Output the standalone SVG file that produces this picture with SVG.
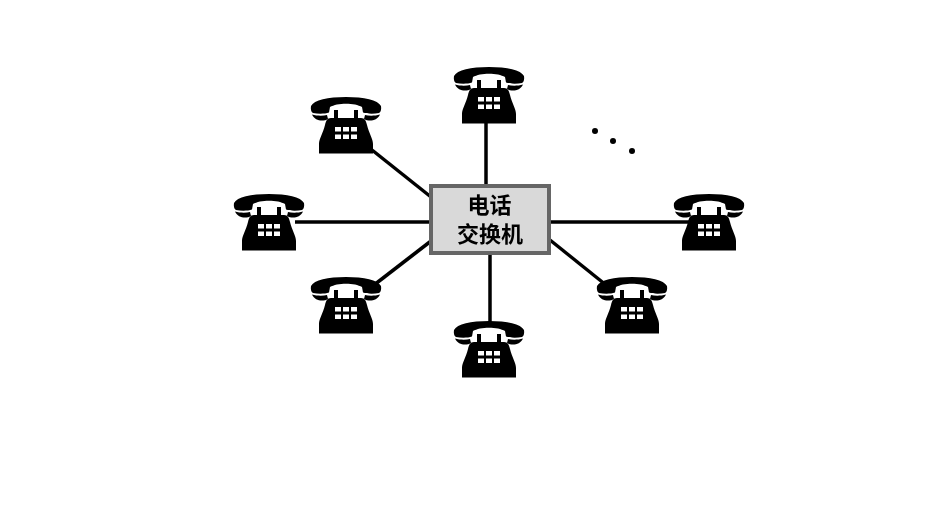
<svg xmlns="http://www.w3.org/2000/svg" width="934" height="513" viewBox="0 0 934 513">
<style>
.wire{stroke:#000;stroke-width:3.5;fill:none}
.sw{fill:#d9d9d9;stroke:#666;stroke-width:4}
.lbl{font-family:"Liberation Sans","Noto Sans CJK SC",sans-serif;font-size:22px;font-weight:700;fill:#000;text-anchor:middle}
</style>
<defs>
<filter id="soft" x="0" y="0" width="100%" height="100%"><feGaussianBlur stdDeviation="0.45"/></filter>
<g id="phone">
<path d="M-35,9 C-32,3 -18,0 0,0 C18,0 32,3 35,9 C35.500,12 35,15 33,16 C28,17 21,17 17,15.500 L16,10 C9,5.500 -9,5.500 -16,10 L-17,15.500 C-21,17 -28,17 -33,16 C-35,15 -35.500,12 -35,9 Z" fill="#000"/>
<path d="M-34,17.500 C-29,19 -23,19 -19,18 L-18,22 C-23,25 -31,24 -34,17.500 Z M34,17.500 C29,19 23,19 19,18 L18,22 C23,25 31,24 34,17.500 Z" fill="#000"/>
<path d="M-12,13 H-8 V21 H8 V13 H12 V21 H15 C19,21 20,24 21,28 C23,36 27,42 27,47 V56.500 H-27 V47 C-27,42 -23,36 -21,28 C-20,24 -19,21 -15,21 H-12 Z" fill="#000"/>
<g fill="#fff">
<rect x="-11" y="30" width="6" height="4.500"/><rect x="-3" y="30" width="6" height="4.500"/><rect x="5" y="30" width="6" height="4.500"/>
<rect x="-11" y="37.500" width="6" height="4.500"/><rect x="-3" y="37.500" width="6" height="4.500"/><rect x="5" y="37.500" width="6" height="4.500"/>
</g>
</g>
</defs>
<rect width="934" height="513" fill="#fff"/>
<g filter="url(#soft)">
<g id="connectors">
<path class="wire" d="M486,122V186"/>
<path class="wire" d="M372,150L431,197"/>
<path class="wire" d="M295,222H431"/>
<path class="wire" d="M550,222H690"/>
<path class="wire" d="M374,285L431,241"/>
<path class="wire" d="M550,240L606,285"/>
<path class="wire" d="M490,253V323"/>
</g>
<g id="phone-top"><use href="#phone" x="489" y="67"/></g>
<g id="phone-upper-left"><use href="#phone" x="346" y="97"/></g>
<g id="phone-left"><use href="#phone" x="269" y="194"/></g>
<g id="phone-right"><use href="#phone" x="709" y="194"/></g>
<g id="phone-lower-left"><use href="#phone" x="346" y="277"/></g>
<g id="phone-lower-right"><use href="#phone" x="632" y="277"/></g>
<g id="phone-bottom"><use href="#phone" x="489" y="321"/></g>
<g id="switch">
<rect class="sw" x="431" y="186" width="118" height="67"/>
<text class="lbl" x="489.500" y="213">电话</text>
<text class="lbl" x="490" y="242">交换机</text>
</g>
<g id="dots" fill="#000">
<circle cx="595" cy="131" r="3"/><circle cx="613" cy="141" r="3"/><circle cx="632" cy="151" r="3"/>
</g>
</g>
</svg>
